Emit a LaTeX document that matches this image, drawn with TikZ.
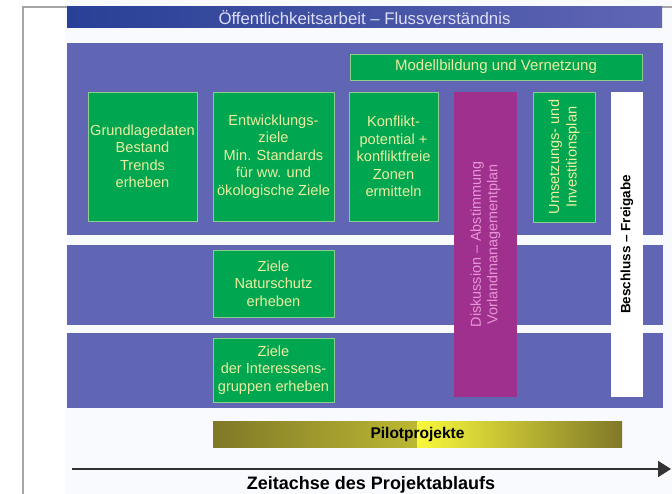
\documentclass[tikz,border=0pt]{standalone}
\usepackage{fontspec}
\setmainfont{Liberation Sans}
\usetikzlibrary{arrows.meta,positioning}
\definecolor{bandblue}{RGB}{96,102,180}
\definecolor{darkblue}{RGB}{40,64,150}
\definecolor{boxgreen}{RGB}{0,166,80}
\definecolor{boxline}{RGB}{140,206,140}
\definecolor{boxtext}{RGB}{236,238,160}
\definecolor{discpurple}{RGB}{160,48,142}
\definecolor{disctext}{RGB}{230,150,212}
\definecolor{olivebar}{RGB}{128,120,40}
\definecolor{yellowbar}{RGB}{248,248,60}
\definecolor{framegray}{RGB}{165,165,165}
\definecolor{paper}{RGB}{249,250,253}

\begin{document}
\begin{tikzpicture}[x=1pt,y=-1pt,
    greenbox/.style={draw=boxline,line width=0.6pt,fill=boxgreen,text=boxtext,
      inner sep=0pt,align=center,font=\fontsize{14.6}{17.5}\selectfont},
    discbox/.style={fill=discpurple,text=disctext,inner sep=0pt,align=center,
      font=\fontsize{14.4}{16.5}\selectfont},
    whitebox/.style={fill=white,inner sep=0pt,font=\fontsize{13.5}{16}\selectfont\bfseries}]
    \def\L{67}
    \def\R{663}
    \useasboundingbox (0,0) rectangle (672,494);
    %Paper
    \fill[paper] (65,0) rectangle (672,494);
    \draw[framegray,line width=1.2pt] (23,494) -- (23,7) -- (672,7);
    %Bands
    \fill[bandblue] (\L,43) rectangle (\R,235);
    \fill[bandblue] (\L,245) rectangle (\R,325);
    \fill[bandblue] (\L,333) rectangle (\R,408);
    %Banner
    \node[left color=darkblue,right color=bandblue,minimum width=595pt,minimum height=21pt,
      inner sep=0pt,text={rgb,255:red,222;green,222;blue,246},font=\fontsize{16.8}{18}\selectfont]
      (oeff) at (364.5,17.5) {Öffentlichkeitsarbeit -- Flussverständnis};
    %Boxes
    \node[greenbox,minimum width=292pt,minimum height=26pt,font=\fontsize{15}{17}\selectfont]
      (modell) at (496,67) {Modellbildung und Vernetzung};
    \node[greenbox,minimum width=109pt,minimum height=129pt] (grund) at (142.5,156.5)
      {Grundlagedaten\\Bestand\\Trends\\erheben};
    \node[greenbox,minimum width=121pt,minimum height=129pt] (entw) at (273.5,156.5)
      {Entwicklungs-\\ziele\\Min. Standards\\für ww. und\\ökologische Ziele};
    \node[greenbox,minimum width=89pt,minimum height=129pt] (konf) at (393.5,156.5)
      {Konflikt-\\potential +\\konfliktfreie\\Zonen\\ermitteln};
    \node[discbox,rotate=90,minimum width=305pt,minimum height=63pt] (disk) at (485.5,244.5)
      {Diskussion -- Abstimmung\\Vorlandmanagementplan};
    \node[greenbox,rotate=90,minimum width=130pt,minimum height=62pt] (plan) at (564,157)
      {Umsetzungs- und\\Investitionsplan};
    \node[whitebox,rotate=90,minimum width=305pt,minimum height=32pt] (beschluss) at (627,244.5)
      {Beschluss -- Freigabe};
    \node[greenbox,minimum width=121pt,minimum height=67pt] (natur) at (273.5,283.5)
      {Ziele\\Naturschutz\\erheben};
    \node[greenbox,minimum width=121pt,minimum height=64pt] (inter) at (273.5,370)
      {Ziele\\der Interessens-\\gruppen erheben};
    %Pilot bar
    \node[minimum width=409pt,minimum height=26pt,inner sep=0pt,
      font=\fontsize{15.5}{17}\selectfont\bfseries,
      path picture={
        \shade[left color=olivebar,right color=yellowbar]
          (path picture bounding box.south west) rectangle (path picture bounding box.north);
        \shade[left color=yellowbar,right color=olivebar]
          (path picture bounding box.south) rectangle (path picture bounding box.north east);}]
      (pilot) at (417.5,434) {Pilotprojekte};
    %Axis
    \coordinate (t0) at (72,469);
    \coordinate (t1) at (671,469);
    \draw[-{Triangle[length=13pt,width=16pt]},line width=2pt,black!80] (t0) -- (t1);
    \node[font=\fontsize{18}{20}\selectfont\bfseries] (zeit) at (371,485)
      {Zeitachse des Projektablaufs};
\end{tikzpicture}
\end{document}
